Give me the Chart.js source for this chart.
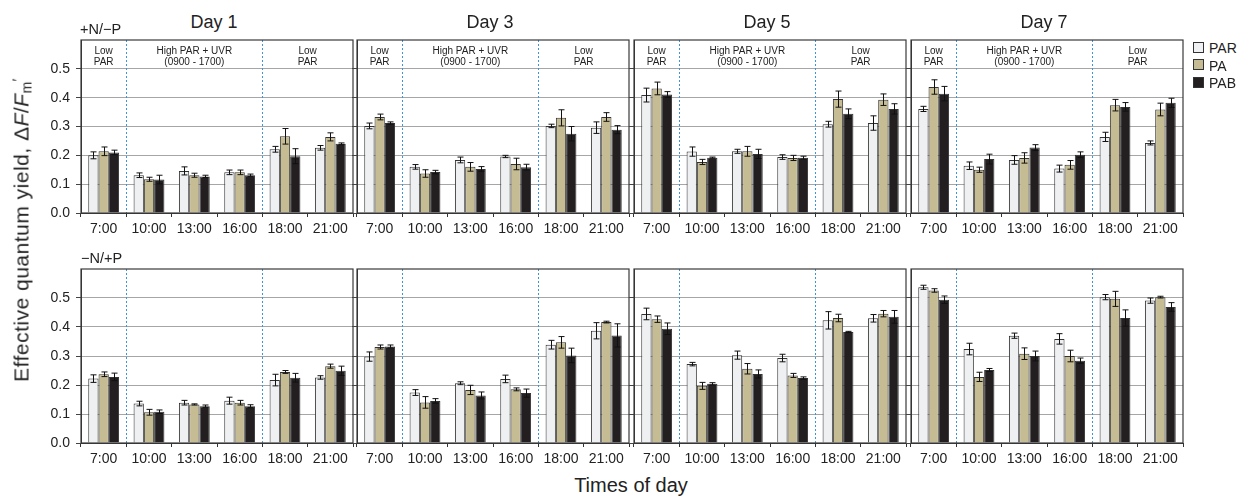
<!DOCTYPE html>
<html><head><meta charset="utf-8">
<script src="https://cdn.jsdelivr.net/npm/chart.js@4.4.0/dist/chart.umd.min.js"></script>
<style>
body{margin:0;background:#fff;font-family:"Liberation Sans",Arial,sans-serif;}
#wrap{position:relative;width:1238px;height:496px;overflow:hidden;background:#fff;}
.box{position:absolute;}
.txt{position:absolute;color:#222;white-space:nowrap;transform:translate(-50%,-50%);line-height:1;}
.lg{position:absolute;white-space:nowrap;font-size:14px;color:#222;line-height:1;}
.sw{display:inline-block;width:9px;height:9px;border:1px solid #333;vertical-align:middle;margin-right:5px;position:relative;top:-2px;}
</style></head><body><div id="wrap"></div>
<script>
// ---------- categories / labels ----------
const categories = ['7:00','10:00','13:00','16:00','18:00','21:00'];
const days = ['Day 1','Day 3','Day 5','Day 7'];
const treatments = ['+N/\u2212P','\u2212N/+P'];
const seriesNames = ['PAR','PA','PAB'];
const yTickValues = [0,0.1,0.2,0.3,0.4,0.5];
const regionText = [['Low','PAR'],['High PAR + UVR','(0900 - 1700)'],['Low','PAR']];
const regionFrom = [0,1,4];
const regionTo = [0,3,5];
const dividerAfter = [0,3];

// ---------- +N/-P (top row) ----------
const top_d1_PAR = [0.200,0.131,0.146,0.141,0.221,0.226];
const top_d1_PA  = [0.214,0.117,0.131,0.141,0.266,0.264];
const top_d1_PAB = [0.210,0.116,0.127,0.131,0.197,0.240];
const top_d3_PAR = [0.302,0.160,0.184,0.196,0.302,0.296];
const top_d3_PA  = [0.333,0.137,0.160,0.170,0.330,0.333];
const top_d3_PAB = [0.312,0.142,0.153,0.159,0.275,0.289];
const top_d5_PAR = [0.409,0.213,0.214,0.194,0.308,0.312];
const top_d5_PA  = [0.432,0.177,0.214,0.191,0.395,0.393];
const top_d5_PAB = [0.411,0.192,0.205,0.192,0.344,0.361];
const top_d7_PAR = [0.361,0.164,0.184,0.154,0.264,0.243];
const top_d7_PA  = [0.437,0.150,0.191,0.167,0.374,0.359];
const top_d7_PAB = [0.414,0.187,0.227,0.202,0.368,0.382];

const top_d1_PAR_err = [0.012,0.008,0.014,0.008,0.010,0.008];
const top_d1_PA_err  = [0.015,0.007,0.007,0.008,0.027,0.014];
const top_d1_PAB_err = [0.008,0.015,0.004,0.004,0.026,0.003];
const top_d3_PAR_err = [0.010,0.008,0.010,0.004,0.006,0.020];
const top_d3_PA_err  = [0.010,0.013,0.015,0.020,0.028,0.015];
const top_d3_PAB_err = [0.004,0.006,0.008,0.010,0.025,0.014];
const top_d5_PAR_err = [0.024,0.016,0.007,0.008,0.010,0.025];
const top_d5_PA_err  = [0.022,0.009,0.017,0.009,0.028,0.020];
const top_d5_PAB_err = [0.010,0.002,0.016,0.005,0.017,0.018];
const top_d7_PAR_err = [0.009,0.013,0.015,0.012,0.016,0.007];
const top_d7_PA_err  = [0.025,0.009,0.018,0.015,0.020,0.022];
const top_d7_PAB_err = [0.025,0.017,0.010,0.010,0.015,0.016];

// ---------- -N/+P (bottom row) ----------
const bot_d1_PAR = [0.222,0.136,0.139,0.146,0.217,0.226];
const bot_d1_PA  = [0.237,0.106,0.133,0.139,0.245,0.265];
const bot_d1_PAB = [0.228,0.108,0.127,0.127,0.225,0.249];
const bot_d3_PAR = [0.298,0.174,0.206,0.221,0.339,0.387];
const bot_d3_PA  = [0.331,0.140,0.183,0.185,0.347,0.417];
const bot_d3_PAB = [0.333,0.145,0.164,0.172,0.302,0.371];
const bot_d5_PAR = [0.445,0.272,0.303,0.293,0.423,0.430];
const bot_d5_PA  = [0.427,0.197,0.256,0.233,0.431,0.446];
const bot_d5_PAB = [0.394,0.204,0.238,0.224,0.383,0.435];
const bot_d7_PAR = [0.537,0.324,0.370,0.359,0.503,0.491];
const bot_d7_PA  = [0.526,0.228,0.308,0.300,0.497,0.503];
const bot_d7_PAB = [0.494,0.252,0.300,0.284,0.431,0.469];

const bot_d1_PAR_err = [0.013,0.008,0.008,0.012,0.020,0.006];
const bot_d1_PA_err  = [0.008,0.010,0.002,0.008,0.005,0.007];
const bot_d1_PAB_err = [0.013,0.006,0.004,0.005,0.015,0.016];
const bot_d3_PAR_err = [0.016,0.010,0.005,0.013,0.015,0.028];
const bot_d3_PA_err  = [0.007,0.020,0.016,0.005,0.020,0.003];
const bot_d3_PAB_err = [0.005,0.008,0.012,0.014,0.025,0.040];
const bot_d5_PAR_err = [0.020,0.006,0.014,0.013,0.030,0.013];
const bot_d5_PA_err  = [0.011,0.012,0.018,0.007,0.013,0.011];
const bot_d5_PAB_err = [0.020,0.004,0.014,0.004,0.002,0.022];
const bot_d7_PAR_err = [0.007,0.020,0.009,0.018,0.009,0.009];
const bot_d7_PA_err  = [0.006,0.016,0.020,0.020,0.026,0.003];
const bot_d7_PAB_err = [0.013,0.005,0.017,0.009,0.028,0.015];

// ---------- assemble panels from the named arrays ----------
const panelValues = [
  [[top_d1_PAR,top_d1_PA,top_d1_PAB],[top_d3_PAR,top_d3_PA,top_d3_PAB],[top_d5_PAR,top_d5_PA,top_d5_PAB],[top_d7_PAR,top_d7_PA,top_d7_PAB]],
  [[bot_d1_PAR,bot_d1_PA,bot_d1_PAB],[bot_d3_PAR,bot_d3_PA,bot_d3_PAB],[bot_d5_PAR,bot_d5_PA,bot_d5_PAB],[bot_d7_PAR,bot_d7_PA,bot_d7_PAB]]
];
const panelErrors = [
  [[top_d1_PAR_err,top_d1_PA_err,top_d1_PAB_err],[top_d3_PAR_err,top_d3_PA_err,top_d3_PAB_err],[top_d5_PAR_err,top_d5_PA_err,top_d5_PAB_err],[top_d7_PAR_err,top_d7_PA_err,top_d7_PAB_err]],
  [[bot_d1_PAR_err,bot_d1_PA_err,bot_d1_PAB_err],[bot_d3_PAR_err,bot_d3_PA_err,bot_d3_PAB_err],[bot_d5_PAR_err,bot_d5_PA_err,bot_d5_PAB_err],[bot_d7_PAR_err,bot_d7_PA_err,bot_d7_PAB_err]]
];

// ---------- styling / layout ----------
const FONT = '"Liberation Sans", Arial, sans-serif';
const fillColors = ['#eff0f2','#c6bc93','#231f20'];
const PANEL_LEFTS = [81,357,634,911];
const PANEL_W = 272;
const ROW_TOPS = [40,269];
const ROW_H = [173,174];
const PAD_T = 8, PAD_R = 3, X_AXIS_H = 30;

const wrap = document.getElementById('wrap');

const framePlugin = {
  id:'frame',
  afterDraw(chart){
    const {ctx, chartArea:a} = chart;
    ctx.save();
    ctx.strokeStyle = '#3a3a3a';
    ctx.lineWidth = 1.2;
    ctx.strokeRect(a.left, a.top, a.right-a.left, a.bottom-a.top);
    ctx.restore();
  }
};

const dividerPlugin = {
  id:'dividers',
  beforeDatasetsDraw(chart){
    const xs = chart.scales.x; const {ctx, chartArea:a} = chart;
    ctx.save();
    ctx.strokeStyle = '#3d95d8'; ctx.lineWidth = 1; ctx.setLineDash([2,2]);
    dividerAfter.forEach(i => {
      const x = Math.round((xs.getPixelForValue(i)+xs.getPixelForValue(i+1))/2)+0.5;
      ctx.beginPath(); ctx.moveTo(x, a.top); ctx.lineTo(x, a.bottom); ctx.stroke();
    });
    ctx.restore();
  }
};

const regionPlugin = {
  id:'regions',
  afterDraw(chart, args, opts){
    if(!opts.show) return;
    const xs = chart.scales.x; const {ctx, chartArea:a} = chart;
    ctx.save();
    ctx.fillStyle = '#222'; ctx.font = '10px ' + FONT; ctx.textAlign = 'center'; ctx.textBaseline = 'middle';
    regionText.forEach((lines, k) => {
      const cx = (xs.getPixelForValue(regionFrom[k]) + xs.getPixelForValue(regionTo[k]))/2;
      lines.forEach((t, li) => ctx.fillText(t, cx, a.top + 11 + li*11));
    });
    ctx.restore();
  }
};

const errorBarPlugin = {
  id:'errbars',
  afterDatasetsDraw(chart){
    const ys = chart.scales.y; const ctx = chart.ctx;
    ctx.save(); ctx.strokeStyle = '#111'; ctx.lineWidth = 1;
    chart.data.datasets.forEach((ds, i) => {
      const meta = chart.getDatasetMeta(i);
      meta.data.forEach((bar, j) => {
        const v = ds.data[j], e = ds.errors[j];
        const x = Math.round(bar.x)+0.5;
        const y1 = ys.getPixelForValue(v+e), y2 = ys.getPixelForValue(v-e);
        ctx.beginPath();
        ctx.moveTo(x,y1); ctx.lineTo(x,y2);
        ctx.moveTo(x-3,y1); ctx.lineTo(x+3,y1);
        ctx.moveTo(x-3,y2); ctx.lineTo(x+3,y2);
        ctx.stroke();
      });
    });
    ctx.restore();
  }
};

for (let r = 0; r < 2; r++) {
  for (let c = 0; c < 4; c++) {
    const yw = c === 0 ? 52 : 5;
    const w = yw + PANEL_W + PAD_R;
    const h = PAD_T + ROW_H[r] + X_AXIS_H;
    const box = document.createElement('div');
    box.className = 'box';
    box.style.left = (PANEL_LEFTS[c] - yw) + 'px';
    box.style.top = (ROW_TOPS[r] - PAD_T) + 'px';
    box.style.width = w + 'px'; box.style.height = h + 'px';
    const cv = document.createElement('canvas');
    cv.width = w; cv.height = h; cv.style.width = w+'px'; cv.style.height = h+'px'; cv.style.display = 'block';
    box.appendChild(cv); wrap.appendChild(box);

    const datasets = seriesNames.map((name, s) => ({
      label: name,
      data: panelValues[r][c][s],
      errors: panelErrors[r][c][s],
      backgroundColor: fillColors[s],
      borderColor: '#333',
      borderWidth: 1,
      borderSkipped: 'bottom',
      categoryPercentage: 0.68,
      barPercentage: 1.0
    }));

    new Chart(cv, {
      type: 'bar',
      data: { labels: categories, datasets },
      options: {
        responsive: false, animation: false, devicePixelRatio: 1,
        layout: { padding: { top: PAD_T, right: PAD_R, left: 0, bottom: 0 } },
        plugins: { legend: { display: false }, tooltip: { enabled: false }, regions: { show: r === 0 } },
        scales: {
          x: {
            type: 'category', offset: true,
            grid: { display: true, drawOnChartArea: false, drawTicks: true, tickLength: 4, offset: true, color: '#333', tickColor: '#333' },
            border: { display: true, color: '#333', width: 1 },
            ticks: { font: { size: 14, family: FONT }, color: '#222', padding: 4, maxRotation: 0, autoSkip: false },
            afterFit: s => { s.height = X_AXIS_H; }
          },
          y: {
            min: 0, max: 0.6,
            afterBuildTicks: s => { s.ticks = yTickValues.concat([0.6]).map(v => ({ value: v })); },
            ticks: {
              display: c === 0, font: { size: 14, family: FONT }, color: '#222', padding: 6,
              callback: v => (yTickValues.some(t => Math.abs(t - v) < 1e-6) ? Number(v).toFixed(1) : '')
            },
            grid: {
              drawTicks: true, tickLength: 5, lineWidth: 1,
              color: ctx => (ctx.tick && ctx.tick.value > 0.01 && ctx.tick.value < 0.55) ? '#a6a6a6' : 'rgba(0,0,0,0)',
              tickColor: ctx => (ctx.tick && ctx.tick.value < 0.55) ? '#444' : 'rgba(0,0,0,0)'
            },
            border: { display: true, color: '#333', width: 1 },
            afterFit: s => { s.width = yw; s.paddingTop = 0; s.paddingBottom = 0; }
          }
        }
      },
      plugins: [dividerPlugin, errorBarPlugin, regionPlugin, framePlugin]
    });
  }
}

// ---------- text overlays ----------
function addText(t, x, y, size, extra) {
  const d = document.createElement('div');
  d.className = 'txt'; d.style.left = x + 'px'; d.style.top = y + 'px'; d.style.fontSize = size + 'px';
  if (extra) Object.assign(d.style, extra);
  d.innerHTML = t; wrap.appendChild(d); return d;
}
days.forEach((d, c) => addText(d, PANEL_LEFTS[c] + PANEL_W/2 - 3, 22, 18));
addText(treatments[0], 80, 29, 14.5, { transform: 'translate(0,-50%)' });
addText(treatments[1], 81, 258, 14.5, { transform: 'translate(0,-50%)' });
addText('Times of day', 631, 485, 20);
addText('Effective quantum yield, &Delta;<i>F</i>/<i>F</i><sub style="font-size:14px;vertical-align:-3px">m</sub><sup style="font-size:14px;vertical-align:6px">\u2032</sup>', 22, 230, 21, { transform: 'translate(-50%,-50%) rotate(-90deg)', letterSpacing: '0.5px' });

// legend
seriesNames.forEach((n, s) => {
  const d = document.createElement('div');
  d.className = 'lg'; d.style.left = '1193px'; d.style.top = (41 + s*17.5) + 'px';
  d.innerHTML = '<span class="sw" style="background:' + fillColors[s] + '"></span>' + n;
  wrap.appendChild(d);
});
</script></body></html>
